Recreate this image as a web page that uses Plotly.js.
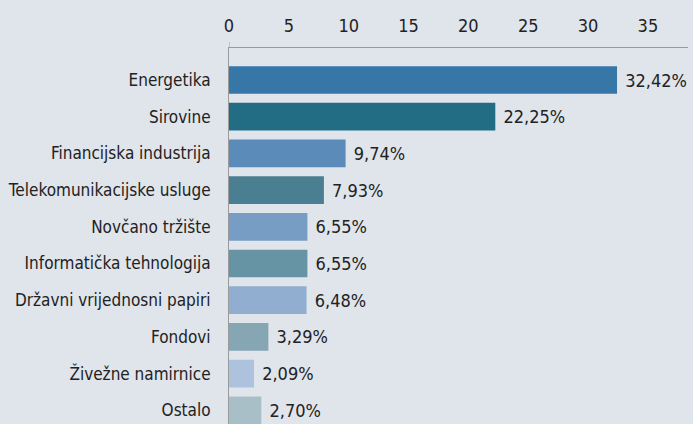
<!DOCTYPE html>
<html>
<head>
<meta charset="utf-8">
<script src="https://cdn.plot.ly/plotly-3.0.1.min.js"></script>
<style>html,body{margin:0;padding:0;background:#e0e4eb;}</style>
</head>
<body>
<div id="chart" style="width:693px;height:424px;"></div>
<script>
var categories = ["Energetika","Sirovine","Financijska industrija","Telekomunikacijske usluge","Novčano tržište","Informatička tehnologija","Državni vrijednosni papiri","Fondovi","Živežne namirnice","Ostalo"];
var values = [32.42, 22.25, 9.74, 7.93, 6.55, 6.55, 6.48, 3.29, 2.09, 2.70];
var colors = ["#3777a8","#226d83","#5b8bb8","#4a7f92","#779dc5","#6694a5","#91aed0","#87a6b4","#adc2dd","#a8bfc8"];
var xTicks = [0,5,10,15,20,25,30,35];

var FONT = "'Liberation Sans Narrow', 'DejaVu Sans Condensed', Arial Narrow, sans-serif";

var trace = {
  type: "bar",
  orientation: "h",
  y: categories,
  x: values,
  marker: {color: colors},
  texttemplate: " %{x:.2f}%",
  textposition: "outside",
  cliponaxis: false,
  textfont: {family: FONT, size: 18, color: "#222"},
  hoverinfo: "none"
};

var layout = {
  width: 693, height: 424,
  paper_bgcolor: "#e0e4eb",
  plot_bgcolor: "#e0e4eb",
  separators: ",.",
  margin: {l: 229, r: 5, t: 48, b: 0, pad: 0},
  bargap: 0.245,
  showlegend: false,
  font: {family: FONT, size: 17, color: "#222"},
  xaxis: {
    side: "top",
    range: [0, 38.35],
    tickvals: xTicks,
    ticktext: xTicks.map(String),
    showgrid: false,
    zeroline: false,
    showline: true,
    linecolor: "#9a9a9a",
    linewidth: 1,
    ticks: "",
    ticklabelstandoff: 8,
    tickfont: {family: FONT, size: 18, color: "#222"}
  },
  yaxis: {
    type: "category",
    range: [9.373, -0.872],
    showgrid: false,
    zeroline: false,
    showline: true,
    linecolor: "#9a9a9a",
    linewidth: 1,
    ticks: "",
    ticklabelstandoff: 14,
    tickfont: {family: FONT, size: 17, color: "#222"}
  },
  shapes: [{
    type: "line", xref: "x", yref: "paper",
    x0: 0, x1: 0, y0: 1, y1: 1.016,
    line: {color: "#9a9a9a", width: 1}
  }]
};

Plotly.newPlot("chart", [trace], layout, {displayModeBar: false, staticPlot: true});
</script>
</body>
</html>
